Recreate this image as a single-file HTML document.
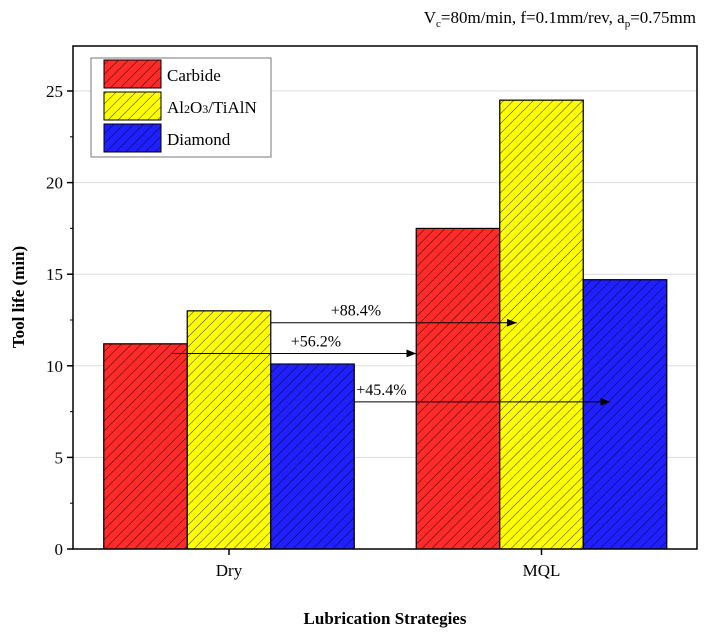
<!DOCTYPE html>
<html><head><meta charset="utf-8"><style>
html,body{margin:0;padding:0;background:#fff;}
svg{display:block;font-family:"Liberation Serif",serif;}
</style></head><body>
<svg id="chart" width="707" height="635">
<defs>
<pattern id="hatch" width="7" height="7" patternUnits="userSpaceOnUse" patternTransform="rotate(45)">
<line x1="0" y1="0" x2="0" y2="7" stroke="#000" stroke-width="0.8"/>
</pattern>
<marker id="arr" markerWidth="10" markerHeight="8" refX="10" refY="4" orient="auto" markerUnits="userSpaceOnUse">
<path d="M0,0 L10,4 L0,8 Z" fill="#000"/>
</marker>
</defs>
<g id="grid"></g>
<g id="bars"></g>
<g id="annots"></g>
<rect x="73" y="46" width="624" height="503" fill="none" stroke="#000" stroke-width="1.5"/>
<g id="axes"></g>
<text x="696" y="23" text-anchor="end" font-size="17">V<tspan font-size="11" dy="4">c</tspan><tspan dy="-4">=80m/min, f=0.1mm/rev, a</tspan><tspan font-size="11" dy="4">p</tspan><tspan dy="-4">=0.75mm</tspan></text>
<text x="24" y="297" text-anchor="middle" font-size="17" font-weight="bold" transform="rotate(-90 24 297)">Tool life (min)</text>
<text x="385" y="624" text-anchor="middle" font-size="17" font-weight="bold">Lubrication Strategies</text>
<g>
<rect x="91" y="58" width="180" height="99" fill="#fff" stroke="#777" stroke-width="1"/>
</g>
<g id="legend"></g>
</svg>
<script>
const categories = ["Dry", "MQL"];
const seriesNames = ["Carbide", "Al2O3/TiAlN", "Diamond"];
const carbide = [11.2, 17.5];
const alumina = [13.0, 24.5];
const diamond = [10.1, 14.7];
const yTicks = [0, 5, 10, 15, 20, 25];
const annotations = ["+88.4%", "+56.2%", "+45.4%"];
const colors = ["#ff2a2a", "#ffff00", "#1f1fff"];
const NS = "http://www.w3.org/2000/svg";
const X0 = 73, X1 = 697, Y0 = 549, Ypx = 458/25;
function y(v){ return Y0 - v*Ypx; }
const groupCenters = [229, 541.5];
const bw = 83.5;
function bx(ci, si){ return groupCenters[ci] + (si-1.5)*bw; }
function mk(tag, attrs, parent){ const e=document.createElementNS(NS,tag); for(const k in attrs) e.setAttribute(k,attrs[k]); parent.appendChild(e); return e; }
const grid=document.getElementById('grid'), axes=document.getElementById('axes'), bars=document.getElementById('bars'), ann=document.getElementById('annots'), leg=document.getElementById('legend');
yTicks.forEach(t=>{
  if(t>0){ const g=mk('line',{x1:X0,x2:X1,y1:y(t),y2:y(t),stroke:'#ddd','stroke-width':1},grid);
  
   }
  const tk=mk('line',{x1:X0-6,x2:X0,y1:y(t),y2:y(t),stroke:'#000','stroke-width':1.5},axes);
  
  
  const tx=mk('text',{x:X0-10,y:y(t)+6,'text-anchor':'end','font-size':17},axes);
  tx.textContent=t;
  
  
  if(t<25){ const m=mk('line',{x1:X0-3,x2:X0,y1:y(t+2.5),y2:y(t+2.5),stroke:'#000','stroke-width':1},axes);
  
   }
});
categories.forEach((c,ci)=>{
  const tk=mk('line',{x1:groupCenters[ci],x2:groupCenters[ci],y1:Y0,y2:Y0+6,stroke:'#000','stroke-width':1.5},axes);
  
  
  const tx=mk('text',{x:groupCenters[ci],y:Y0+27,'text-anchor':'middle','font-size':17},axes);
  tx.textContent=c;
  
  
});
const series=[carbide, alumina, diamond];
const keys=['carbide','alumina','diamond'];
series.forEach((s,si)=>{
  s.forEach((v,ci)=>{
    const x=bx(ci,si);
    const r=mk('rect',{x:x,y:y(v),width:bw,height:Y0-y(v),fill:colors[si],stroke:'#000','stroke-width':1},bars);
    
    
    mk('rect',{x:x,y:y(v),width:bw,height:Y0-y(v),fill:'url(#hatch)',stroke:'#000','stroke-width':1},bars);
  });
});
// annotations
const arrows=[
  {x1:bx(0,2), x2:bx(1,1)+17, v:alumina[0]*0.95, tx:bx(0,2)+60},
  {x1:bx(0,0)+68, x2:bx(1,0), v:carbide[0]*0.953, tx:bx(0,2)+20},
  {x1:bx(0,2)+bw, x2:bx(1,2)+27, v:diamond[0]*0.795, tx:bx(0,2)+bw+2}
];
arrows.forEach((a,i)=>{
  const l=mk('line',{x1:a.x1,x2:a.x2,y1:y(a.v),y2:y(a.v),stroke:'#000','stroke-width':1,'marker-end':'url(#arr)'},ann);
  
  
  const t=mk('text',{x:a.tx,y:y(a.v)-7,'font-size':16},ann);
  t.textContent=annotations[i];
  
  
});
seriesNames.forEach((n,i)=>{
  const yy=60+i*32;
  const r=mk('rect',{x:104,y:yy,width:57,height:28,fill:colors[i],stroke:'#000','stroke-width':1},leg);
  
  
  mk('rect',{x:104,y:yy,width:57,height:28,fill:'url(#hatch)',stroke:'#000','stroke-width':1},leg);
  const t=mk('text',{x:167,y:yy+21,'font-size':17},leg);
  if(i===1){ t.innerHTML='Al<tspan font-size="12">2</tspan>O<tspan font-size="12">3</tspan>/TiAlN'; } else t.textContent=n;
  
  
});
</script>
</body></html>
